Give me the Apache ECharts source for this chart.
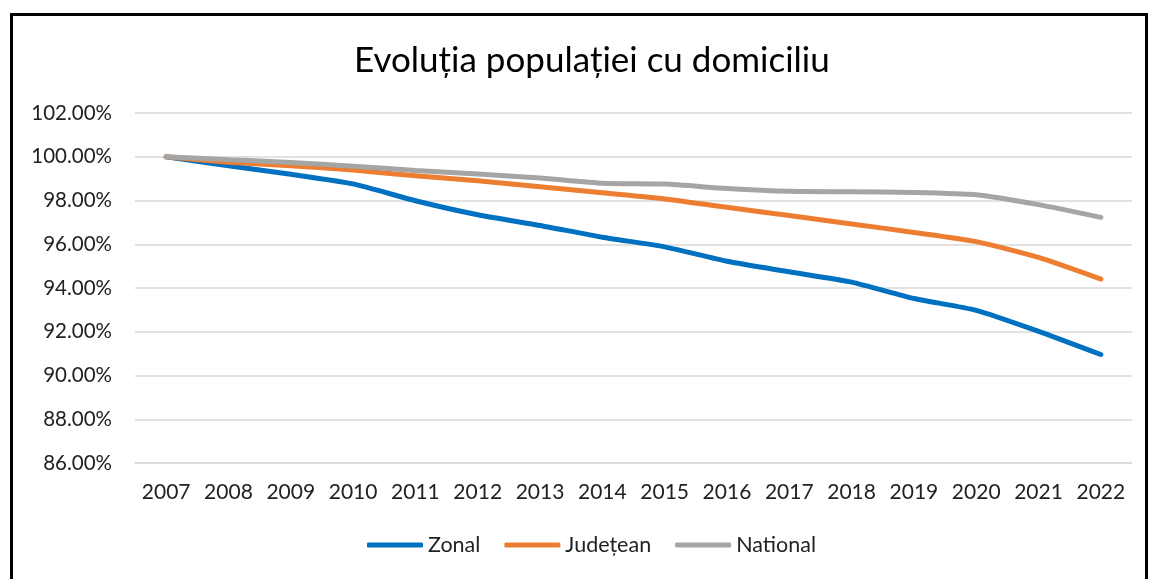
<!DOCTYPE html>
<html>
<head>
<meta charset="utf-8">
<script src="https://cdn.jsdelivr.net/npm/echarts@6/dist/echarts.min.js"></script>
<style>
  html, body { margin: 0; padding: 0; background: #fff; }
  #chart { width: 1149px; height: 579px; }
</style>
</head>
<body>
<div id="chart"></div>
<script>
// ani
var years = ['2007', '2008', '2009', '2010', '2011', '2012', '2013', '2014',
  '2015', '2016', '2017', '2018', '2019', '2020', '2021', '2022'];
// valori in procente
var zonal = [100, 99.59, 99.2, 98.76, 97.99, 97.35, 96.86, 96.32,
  95.88, 95.22, 94.74, 94.27, 93.52, 92.98, 92.02, 90.96];
var judetean = [100, 99.75, 99.59, 99.39, 99.13, 98.9, 98.63, 98.35,
  98.07, 97.69, 97.31, 96.93, 96.54, 96.12, 95.4, 94.41];
var national = [100, 99.86, 99.74, 99.57, 99.37, 99.21, 99.03, 98.79,
  98.75, 98.55, 98.42, 98.4, 98.37, 98.26, 97.81, 97.23];

var font = 'Lato, "Open Sans", sans-serif';
var myChart = echarts.init(document.getElementById('chart'));

function lineSerie(name, data, color) {
  return {
    name: name,
    type: 'line',
    data: data,
    smooth: 0.2,
    symbol: 'none',
    lineStyle: { width: 5, color: color, cap: 'round' },
    itemStyle: { color: color }
  };
}

var option = {
  animation: false,
  backgroundColor: '#fff',
  title: {
    text: 'Evoluția populației cu domiciliu',
    left: 349,
    top: 38,
    textStyle: { fontFamily: font, fontSize: 35, fontWeight: 'normal', color: '#000' }
  },
  graphic: [{
    type: 'rect',
    shape: { x: 11.5, y: 14.5, width: 1135, height: 620 },
    style: { fill: null, stroke: '#000', lineWidth: 3 }
  }],
  legend: {
    bottom: 18,
    left: 362,
    icon: 'roundRect',
    itemWidth: 56,
    itemHeight: 5,
    itemGap: 24,
    textStyle: { fontFamily: font, fontSize: 21.5, color: '#222' },
    data: ['Zonal', 'Județean', 'National']
  },
  grid: { left: 135, right: 17, top: 113, bottom: 116 },
  xAxis: {
    type: 'category',
    data: years,
    boundaryGap: true,
    axisLine: { show: true, lineStyle: { color: '#d9d9d9', width: 1.5 } },
    axisTick: { show: false },
    axisLabel: { interval: 0, fontFamily: font, fontSize: 21, color: '#222', margin: 19 }
  },
  yAxis: {
    type: 'value',
    min: 86,
    max: 102,
    interval: 2,
    axisLine: { show: false },
    axisTick: { show: false },
    splitLine: { lineStyle: { color: '#d9d9d9', width: 1.5 } },
    axisLabel: {
      fontFamily: font, fontSize: 20.5, color: '#222', margin: 23,
      formatter: function (v) { return v.toFixed(2) + '%'; }
    }
  },
  series: [
    lineSerie('Zonal', zonal, '#0070C0'),
    lineSerie('Județean', judetean, '#ED7D31'),
    lineSerie('National', national, '#A5A5A5')
  ]
};
myChart.setOption(option);
</script>
</body>
</html>
